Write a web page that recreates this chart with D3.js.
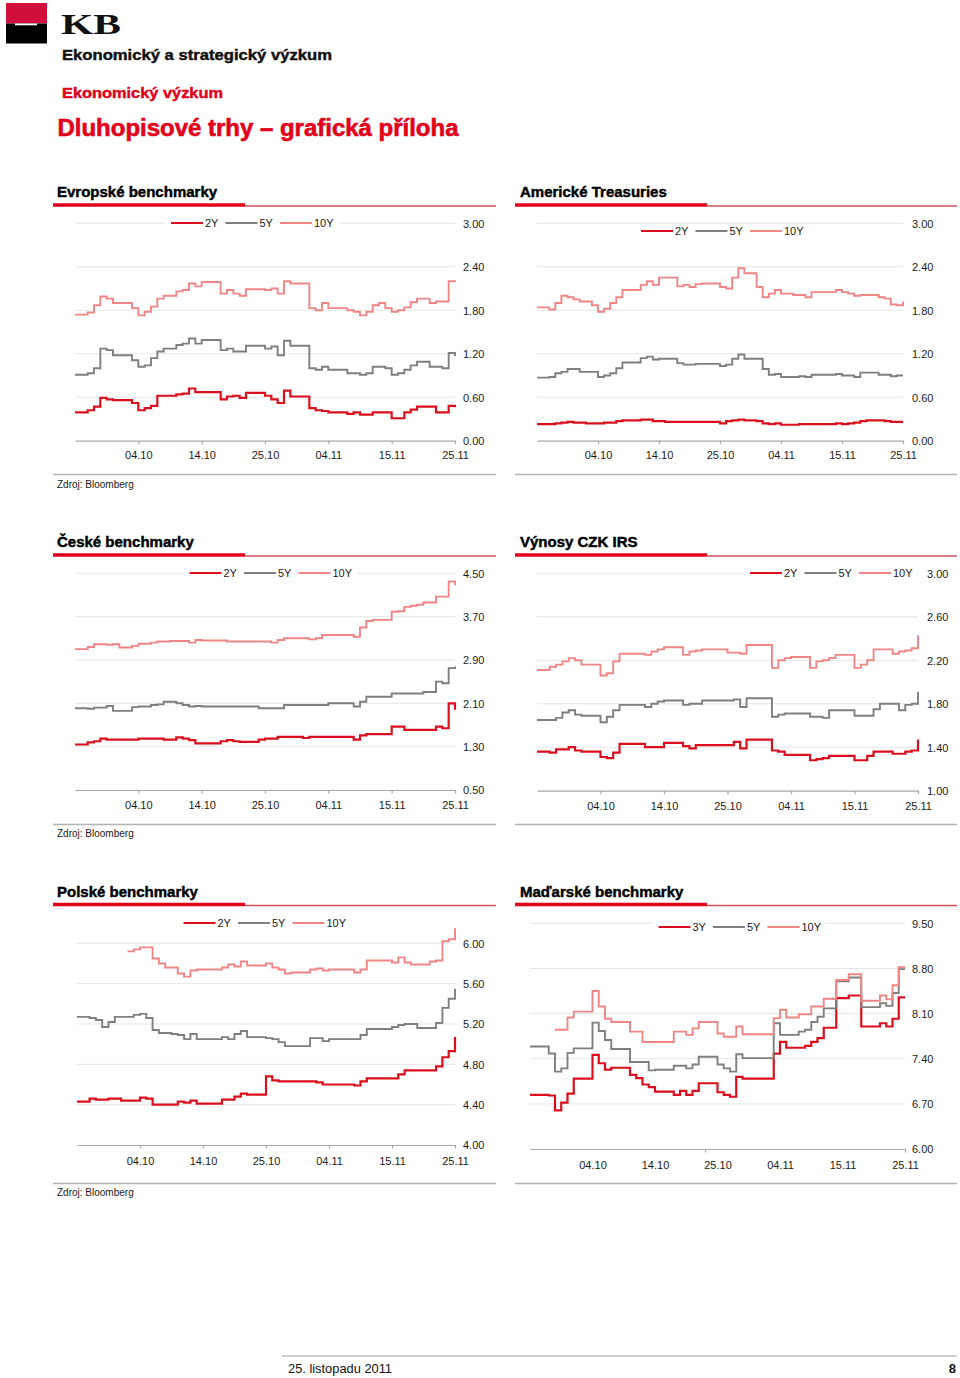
<!DOCTYPE html>
<html>
<head>
<meta charset="utf-8">
<script src="https://cdn.jsdelivr.net/npm/d3@7"></script>
<style>
  html, body { margin: 0; padding: 0; background: #fff; }
  svg { display: block; font-family: "Liberation Sans", Arial, Helvetica, sans-serif; }
</style>
</head>
<body>
<script>
// ---------------- DATA ----------------
const dateLabels = ["04.10", "14.10", "25.10", "04.11", "15.11", "25.11"];
const dateTickIdx = [10, 20, 30, 40, 50, 60];
const huTickMarks = [28, 60];

const namesStd = ["2Y", "5Y", "10Y"];
const namesHu = ["3Y", "5Y", "10Y"];

const eurTicks = [0, 0.6, 1.2, 1.8, 2.4, 3.0];
const usTicks = [0, 0.6, 1.2, 1.8, 2.4, 3.0];
const czTicks = [0.5, 1.3, 2.1, 2.9, 3.7, 4.5];
const irsTicks = [1.0, 1.4, 1.8, 2.2, 2.6, 3.0];
const plTicks = [4.0, 4.4, 4.8, 5.2, 5.6, 6.0];
const huTicks = [6.0, 6.7, 7.4, 8.1, 8.8, 9.5];

const eur2Y = [0.39,0.39,0.42,0.47,0.59,0.57,0.56,0.56,0.56,0.52,0.42,0.45,0.48,0.62,0.62,0.62,0.64,0.65,0.72,0.67,0.67,0.67,0.67,0.57,0.61,0.62,0.59,0.66,0.66,0.66,0.62,0.57,0.52,0.69,0.61,0.61,0.61,0.45,0.42,0.41,0.39,0.39,0.39,0.37,0.39,0.36,0.36,0.39,0.39,0.39,0.31,0.31,0.39,0.43,0.47,0.47,0.47,0.39,0.39,0.48,0.46];
const eur5Y = [0.91,0.91,0.93,1.00,1.27,1.25,1.18,1.18,1.18,1.11,1.02,1.04,1.14,1.23,1.27,1.27,1.32,1.34,1.41,1.34,1.39,1.39,1.39,1.25,1.27,1.23,1.23,1.31,1.31,1.31,1.27,1.30,1.18,1.38,1.31,1.31,1.31,1.00,0.98,1.02,0.98,0.98,0.98,0.93,0.93,0.91,0.93,1.02,1.02,1.00,0.91,0.93,0.98,1.04,1.09,1.09,1.02,1.02,1.00,1.21,1.17];
const eur10Y = [1.74,1.74,1.77,1.87,1.99,1.96,1.90,1.90,1.90,1.83,1.73,1.78,1.85,1.96,2.00,2.00,2.06,2.08,2.17,2.13,2.19,2.19,2.19,2.03,2.08,2.03,2.00,2.09,2.09,2.09,2.08,2.10,2.03,2.20,2.17,2.17,2.17,1.83,1.80,1.90,1.83,1.83,1.83,1.80,1.78,1.73,1.78,1.87,1.90,1.83,1.78,1.80,1.84,1.91,1.96,1.96,1.90,1.92,1.92,2.20,2.19];

const us2Y = [0.23,0.23,0.23,0.24,0.25,0.26,0.25,0.25,0.24,0.24,0.24,0.25,0.25,0.27,0.28,0.28,0.28,0.29,0.29,0.27,0.27,0.26,0.26,0.26,0.26,0.26,0.26,0.26,0.26,0.26,0.24,0.27,0.28,0.29,0.28,0.28,0.27,0.24,0.23,0.24,0.22,0.22,0.22,0.23,0.23,0.23,0.23,0.23,0.23,0.24,0.23,0.24,0.25,0.27,0.28,0.28,0.28,0.27,0.26,0.26,0.26];
const us5Y = [0.87,0.87,0.88,0.93,0.95,0.99,0.99,0.95,0.95,0.95,0.88,0.90,0.93,1.00,1.08,1.08,1.08,1.14,1.16,1.12,1.13,1.13,1.13,1.07,1.05,1.05,1.06,1.06,1.06,1.06,1.03,1.05,1.13,1.19,1.13,1.13,1.13,0.99,0.91,0.92,0.88,0.88,0.88,0.89,0.88,0.91,0.91,0.91,0.91,0.92,0.90,0.90,0.88,0.94,0.94,0.94,0.91,0.91,0.89,0.90,0.90];
const us10Y = [1.84,1.84,1.81,1.90,2.00,1.98,1.95,1.92,1.92,1.87,1.78,1.82,1.90,1.98,2.08,2.08,2.08,2.15,2.20,2.15,2.25,2.25,2.25,2.13,2.15,2.12,2.16,2.17,2.17,2.17,2.12,2.10,2.25,2.38,2.31,2.31,2.12,1.98,2.03,2.08,2.03,2.03,2.01,2.01,1.98,2.05,2.05,2.05,2.05,2.08,2.05,2.03,2.00,2.01,2.01,2.01,1.98,1.96,1.88,1.87,1.92];

const cz2Y = [1.34,1.34,1.38,1.40,1.45,1.43,1.43,1.43,1.43,1.43,1.45,1.45,1.45,1.45,1.43,1.43,1.47,1.45,1.42,1.36,1.36,1.36,1.36,1.40,1.42,1.40,1.39,1.39,1.39,1.43,1.45,1.45,1.48,1.48,1.48,1.48,1.46,1.48,1.48,1.48,1.48,1.48,1.48,1.48,1.43,1.51,1.53,1.53,1.53,1.53,1.67,1.67,1.61,1.61,1.61,1.61,1.61,1.67,1.64,2.10,1.98];
const cz5Y = [2.01,2.01,2.00,2.02,2.02,2.05,1.96,1.96,1.96,2.03,2.04,2.04,2.07,2.08,2.13,2.13,2.10,2.07,2.04,2.05,2.04,2.04,2.04,2.04,2.04,2.04,2.04,2.04,2.04,2.01,2.01,2.01,2.01,2.07,2.07,2.07,2.07,2.07,2.07,2.07,2.10,2.10,2.10,2.10,2.04,2.13,2.22,2.22,2.22,2.22,2.28,2.28,2.28,2.28,2.28,2.31,2.31,2.50,2.47,2.75,2.78];
const cz10Y = [3.10,3.10,3.14,3.19,3.19,3.18,3.19,3.13,3.13,3.16,3.20,3.20,3.22,3.24,3.24,3.25,3.25,3.25,3.22,3.27,3.26,3.26,3.26,3.26,3.24,3.24,3.24,3.24,3.24,3.24,3.24,3.22,3.27,3.30,3.30,3.30,3.30,3.28,3.30,3.36,3.36,3.36,3.36,3.36,3.33,3.50,3.62,3.64,3.64,3.64,3.79,3.80,3.88,3.90,3.92,3.96,3.96,4.07,4.07,4.35,4.28];

const irs2Y = [1.36,1.36,1.35,1.38,1.38,1.40,1.37,1.36,1.36,1.36,1.31,1.30,1.35,1.43,1.43,1.43,1.43,1.40,1.40,1.40,1.44,1.44,1.44,1.41,1.39,1.42,1.42,1.42,1.42,1.42,1.42,1.45,1.39,1.47,1.47,1.47,1.47,1.37,1.36,1.33,1.33,1.33,1.33,1.28,1.29,1.30,1.32,1.32,1.32,1.32,1.28,1.28,1.32,1.36,1.36,1.36,1.34,1.34,1.36,1.37,1.47];
const irs5Y = [1.65,1.65,1.65,1.67,1.72,1.74,1.70,1.69,1.69,1.69,1.63,1.68,1.74,1.79,1.79,1.79,1.79,1.77,1.80,1.82,1.83,1.83,1.83,1.79,1.80,1.80,1.83,1.83,1.83,1.83,1.83,1.84,1.77,1.85,1.85,1.85,1.85,1.68,1.70,1.71,1.71,1.71,1.71,1.68,1.68,1.67,1.74,1.74,1.74,1.74,1.69,1.69,1.69,1.75,1.80,1.80,1.80,1.74,1.79,1.80,1.91];
const irs10Y = [2.11,2.11,2.14,2.16,2.19,2.22,2.20,2.16,2.16,2.16,2.06,2.08,2.19,2.26,2.26,2.26,2.26,2.25,2.28,2.30,2.32,2.32,2.32,2.25,2.28,2.29,2.30,2.30,2.30,2.30,2.27,2.27,2.26,2.34,2.34,2.34,2.34,2.13,2.20,2.22,2.23,2.23,2.23,2.13,2.19,2.20,2.22,2.25,2.25,2.25,2.13,2.16,2.20,2.30,2.30,2.30,2.26,2.28,2.29,2.31,2.43];

const pl2Y = [4.43,4.43,4.46,4.45,4.45,4.46,4.46,4.44,4.44,4.44,4.47,4.46,4.40,4.40,4.40,4.40,4.43,4.42,4.44,4.41,4.41,4.41,4.41,4.45,4.45,4.48,4.51,4.50,4.50,4.50,4.68,4.64,4.63,4.63,4.63,4.63,4.63,4.63,4.62,4.60,4.60,4.60,4.60,4.60,4.59,4.63,4.66,4.66,4.66,4.66,4.66,4.70,4.74,4.74,4.74,4.74,4.74,4.78,4.87,4.93,5.07];
const pl5Y = [5.27,5.27,5.26,5.24,5.17,5.22,5.27,5.27,5.27,5.29,5.30,5.26,5.14,5.11,5.11,5.10,5.09,5.05,5.10,5.05,5.05,5.05,5.05,5.07,5.05,5.10,5.13,5.07,5.07,5.07,5.06,5.05,5.02,4.98,4.98,4.98,4.98,5.06,5.06,5.03,5.05,5.05,5.05,5.05,5.05,5.09,5.15,5.15,5.15,5.15,5.17,5.19,5.20,5.20,5.16,5.16,5.16,5.21,5.36,5.45,5.55];
const pl10Y = [null,null,null,null,null,null,null,null,5.92,5.94,5.96,5.96,5.85,5.80,5.76,5.76,5.70,5.67,5.73,5.74,5.74,5.74,5.74,5.76,5.79,5.77,5.82,5.78,5.78,5.78,5.80,5.76,5.74,5.70,5.71,5.71,5.71,5.74,5.75,5.73,5.74,5.74,5.74,5.74,5.71,5.74,5.83,5.83,5.83,5.83,5.81,5.86,5.81,5.79,5.79,5.79,5.82,5.83,6.02,6.04,6.15];

const hu3Y = [6.84,6.84,6.84,6.83,6.60,6.72,6.86,7.09,7.09,7.09,7.46,7.33,7.23,7.26,7.26,7.26,7.15,7.10,7.00,6.96,6.89,6.89,6.89,6.84,6.90,6.84,6.90,7.02,7.02,7.02,6.88,6.84,6.81,7.12,7.09,7.09,7.09,7.09,7.09,7.48,7.66,7.57,7.57,7.57,7.60,7.66,7.72,7.88,7.88,8.34,8.34,8.38,8.38,7.90,7.90,7.90,7.95,7.90,8.02,8.35,8.35];
const hu5Y = [7.59,7.59,7.59,7.48,7.20,7.25,7.49,7.56,7.56,7.56,7.96,7.83,7.69,7.55,7.55,7.55,7.35,7.35,7.35,7.22,7.23,7.23,7.23,7.29,7.29,7.25,7.31,7.43,7.43,7.43,7.31,7.25,7.20,7.47,7.41,7.41,7.41,7.41,7.41,7.95,7.77,7.77,7.77,7.82,7.85,7.97,8.05,8.18,8.18,8.60,8.60,8.66,8.66,8.20,8.20,8.20,8.26,8.22,8.42,8.79,8.79];
const hu10Y = [null,null,null,null,7.85,7.85,8.04,8.13,8.13,8.13,8.45,8.21,8.02,7.97,7.97,7.97,7.82,7.82,7.66,7.66,7.66,7.66,7.66,7.82,7.82,7.77,7.87,7.97,7.97,7.97,7.79,7.74,7.74,7.90,7.78,7.78,7.78,7.78,7.78,8.03,8.16,8.04,8.04,8.09,8.09,8.21,8.21,8.33,8.33,8.62,8.62,8.71,8.71,8.30,8.30,8.30,8.38,8.32,8.54,8.82,8.82];

// ---------------- STYLE / LAYOUT ----------------
const seriesColors = ["#d90f1d", "#7f7f7f", "#f08585"];
const seriesWidths = [2.2, 1.9, 1.9];
const RED = "#e2001a";
const TEXT = "#1a1a1a";

const panels = [
  { title: "Evropské benchmarky", names: namesStd, series: [eur2Y, eur5Y, eur10Y], ticks: eurTicks,
    side: "L", ty: 197, ruleY: 205, legY: 223, legX: 171, px0: 75, px1: 455, yTopPx: 223.3, yBotPx: 440.7,
    labelX: 463, xLabY: 459, botY: 474.5, source: 488 },
  { title: "Americké Treasuries", names: namesStd, series: [us2Y, us5Y, us10Y], ticks: usTicks,
    side: "R", ty: 197, ruleY: 205, legY: 231, legX: 641, px0: 537, px1: 903, yTopPx: 223.3, yBotPx: 440.7,
    labelX: 912, xLabY: 459, botY: 474.5 },
  { title: "České benchmarky", names: namesStd, series: [cz2Y, cz5Y, cz10Y], ticks: czTicks,
    side: "L", ty: 547, ruleY: 555, legY: 573, legX: 189.5, px0: 75, px1: 455, yTopPx: 573.3, yBotPx: 790,
    labelX: 463, xLabY: 808.5, botY: 824.5, source: 837 },
  { title: "Výnosy CZK IRS", names: namesStd, series: [irs2Y, irs5Y, irs10Y], ticks: irsTicks,
    side: "R", ty: 547, ruleY: 555, legY: 573, legX: 750, px0: 537, px1: 918, yTopPx: 573.3, yBotPx: 790.7,
    labelX: 927, xLabY: 810, botY: 824.5 },
  { title: "Polské benchmarky", names: namesStd, series: [pl2Y, pl5Y, pl10Y], ticks: plTicks,
    side: "L", ty: 897, ruleY: 904.5, legY: 923, legX: 183.5, px0: 77, px1: 455, yTopPx: 943.3, yBotPx: 1145,
    labelX: 463, xLabY: 1164.5, botY: 1183.5, source: 1196 },
  { title: "Maďarské benchmarky", names: namesHu, series: [hu3Y, hu5Y, hu10Y], ticks: huTicks,
    side: "R", ty: 897, ruleY: 904.5, legY: 927, legX: 658.5, px0: 530, px1: 905, yTopPx: 923.3, yBotPx: 1149,
    labelX: 912, xLabY: 1168.5, botY: 1183.5, hu: true }
];

// ---------------- DRAW ----------------
const svg = d3.select("body").append("svg").attr("width", 960).attr("height", 1378);
svg.append("rect").attr("width", 960).attr("height", 1378).attr("fill", "#fff");

// Header / logo
svg.append("rect").attr("x", 6).attr("y", 3).attr("width", 41).attr("height", 20.5).attr("fill", "#d0103a");
svg.append("rect").attr("x", 6).attr("y", 23.5).attr("width", 41).attr("height", 20).attr("fill", "#000");
svg.append("rect").attr("x", 15).attr("y", 23.5).attr("width", 22).attr("height", 1.8).attr("fill", "#fff");
svg.append("text").attr("x", 61).attr("y", 34).attr("font-family", "'Liberation Serif','DejaVu Serif',serif")
  .attr("font-weight", "bold").attr("font-size", 30).attr("textLength", 60).attr("lengthAdjust", "spacingAndGlyphs")
  .attr("fill", "#111").text("KB");
svg.append("text").attr("x", 62).attr("y", 59.5).attr("font-weight", "bold").attr("font-size", 15.5)
  .attr("stroke", "#111").attr("stroke-width", 0.45)
  .attr("textLength", 270).attr("lengthAdjust", "spacingAndGlyphs").attr("fill", "#111").text("Ekonomický a strategický výzkum");
svg.append("text").attr("x", 62).attr("y", 97.5).attr("font-weight", "bold").attr("font-size", 15.5)
  .attr("stroke", RED).attr("stroke-width", 0.45)
  .attr("textLength", 161).attr("lengthAdjust", "spacingAndGlyphs").attr("fill", RED).text("Ekonomický výzkum");
svg.append("text").attr("x", 57.5).attr("y", 136).attr("font-weight", "bold").attr("font-size", 23.5)
  .attr("stroke", RED).attr("stroke-width", 0.6)
  .attr("textLength", 401).attr("lengthAdjust", "spacingAndGlyphs").attr("fill", RED).text("Dluhopisové trhy – grafická příloha");

panels.forEach(p => {
  const g = svg.append("g");
  const L = p.side === "L";
  const rx0 = L ? 53 : 515, rxm = L ? 245 : 707, rx1 = L ? 496 : 957;
  const tx = L ? 57 : 520;

  // title + underline
  g.append("text").attr("x", tx).attr("y", p.ty).attr("font-weight", "bold").attr("font-size", 15)
    .attr("stroke", "#000").attr("stroke-width", 0.45).attr("fill", "#000").text(p.title);
  g.append("line").attr("x1", rxm).attr("x2", rx1).attr("y1", p.ruleY + 1).attr("y2", p.ruleY + 1)
    .attr("stroke", "#d5505a").attr("stroke-width", 1.4);
  g.append("line").attr("x1", rx0).attr("x2", rxm).attr("y1", p.ruleY).attr("y2", p.ruleY)
    .attr("stroke", RED).attr("stroke-width", 3.4);

  // scales
  const n = p.series[0].length;
  const x = d3.scaleLinear().domain([0, n - 1]).range([p.px0, p.px1]);
  const y = d3.scaleLinear().domain([p.ticks[0], p.ticks[p.ticks.length - 1]]).range([p.yBotPx, p.yTopPx]);

  // gridlines
  g.append("g").selectAll("line").data(p.ticks.slice(1)).join("line")
    .attr("x1", p.px0).attr("x2", p.px1).attr("y1", d => y(d)).attr("y2", d => y(d))
    .attr("stroke", "#e6e6e6").attr("stroke-width", 1);

  // y labels
  const ya = g.append("g").attr("transform", `translate(${p.labelX},0)`)
    .call(d3.axisRight(y).tickValues(p.ticks).tickSize(0).tickPadding(0).tickFormat(d3.format(".2f")));
  ya.select(".domain").remove();
  ya.selectAll("text").attr("font-size", 11).attr("fill", TEXT).attr("font-family", null).attr("dy", "0.35em");

  // x axis
  const xa = g.append("g").attr("transform", `translate(0,${p.yBotPx})`)
    .call(d3.axisBottom(x).tickValues(dateTickIdx).tickSize(p.hu ? 0 : 3.5).tickSizeOuter(0)
      .tickFormat((d, i) => dateLabels[i]));
  xa.select(".domain").attr("stroke", "#a8a8a8").attr("stroke-width", 1.2);
  xa.selectAll(".tick line").attr("stroke", "#a8a8a8").attr("stroke-width", 1.2);
  xa.selectAll("text").attr("font-size", 11).attr("fill", TEXT).attr("font-family", null)
    .attr("y", p.xLabY - p.yBotPx).attr("dy", 0);
  if (p.hu) {
    const xm = g.append("g").attr("transform", `translate(0,${p.yBotPx})`)
      .call(d3.axisBottom(x).tickValues(huTickMarks).tickSize(3.5).tickSizeOuter(0).tickFormat(""));
    xm.select(".domain").remove();
    xm.selectAll(".tick line").attr("stroke", "#a8a8a8").attr("stroke-width", 1.2);
  }

  // series lines
  const line = d3.line().defined(d => d != null).x((d, i) => x(i)).y(d => y(d)).curve(d3.curveStepAfter);
  p.series.forEach((s, k) => {
    g.append("path").datum(s).attr("d", line).attr("fill", "none")
      .attr("stroke", seriesColors[k]).attr("stroke-width", seriesWidths[k]).attr("stroke-linejoin", "miter");
  });

  // legend
  const lg = g.append("g");
  const bg = lg.append("rect").attr("fill", "#fff");
  let cx = p.legX;
  p.names.forEach((nm, k) => {
    lg.append("line").attr("x1", cx).attr("x2", cx + 32).attr("y1", p.legY).attr("y2", p.legY)
      .attr("stroke", seriesColors[k]).attr("stroke-width", 2);
    const t = lg.append("text").attr("x", cx + 34).attr("y", p.legY + 4).attr("font-size", 11)
      .attr("fill", TEXT).text(nm);
    cx = cx + 34 + t.node().getComputedTextLength() + 7;
  });
  bg.attr("x", p.legX - 6).attr("y", p.legY - 7).attr("width", cx - p.legX + 4).attr("height", 14);

  // bottom rule + source
  g.append("line").attr("x1", rx0).attr("x2", rx1).attr("y1", p.botY).attr("y2", p.botY)
    .attr("stroke", "#b4b4b4").attr("stroke-width", 1.5);
  if (p.source) {
    g.append("text").attr("x", 57).attr("y", p.source).attr("font-size", 10).attr("fill", TEXT).text("Zdroj: Bloomberg");
  }
});

// footer
svg.append("line").attr("x1", 282).attr("x2", 957).attr("y1", 1356).attr("y2", 1356)
  .attr("stroke", "#9a9a9a").attr("stroke-width", 1);
svg.append("text").attr("x", 288).attr("y", 1373).attr("font-size", 13).attr("fill", "#111")
  .attr("textLength", 104).attr("lengthAdjust", "spacingAndGlyphs").text("25. listopadu 2011");
svg.append("text").attr("x", 956).attr("y", 1373).attr("font-size", 13).attr("font-weight", "bold")
  .attr("text-anchor", "end").attr("fill", "#111").text("8");
</script>
</body>
</html>
